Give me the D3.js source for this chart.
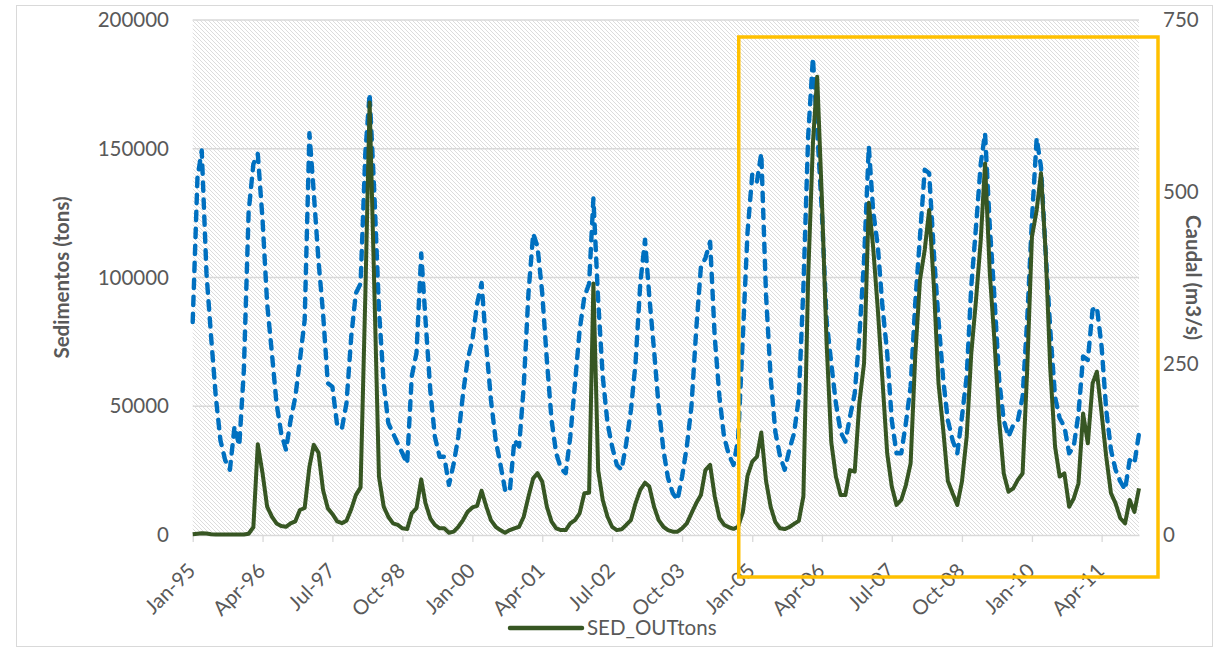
<!DOCTYPE html>
<html>
<head>
<meta charset="utf-8">
<script src="https://cdn.jsdelivr.net/npm/d3@7"></script>
<style>
  body { margin: 0; background: #fff; }
  text { font-family: Lato, "Open Sans", sans-serif; fill: #595959; }
</style>
</head>
<body>
<div id="chart"></div>
<script>

// monthly series, Jan-95 .. Dec-11 (one row per year)
var sed_out = [
  300, 500, 700, 600, 300, 200, 150, 150, 150, 150, 150, 200,
  500, 3000, 35200, 24000, 11000, 7100, 4500, 3500, 3200, 4500, 5300, 9700,
  10500, 26500, 35000, 32000, 17500, 10400, 8200, 5300, 4600, 5500, 10000, 15500,
  18500, 93000, 168000, 95000, 22600, 11000, 7100, 4500, 3900, 2600, 2300, 8400,
  10400, 21600, 12300, 6500, 3900, 2600, 2600, 900, 1300, 3200, 5800, 9000,
  10700, 11300, 17200, 11000, 5800, 3200, 1900, 900, 1900, 2600, 3200, 7100,
  14900, 22000, 24000, 20700, 11000, 5200, 2600, 1900, 1900, 4500, 5800, 8400,
  16200, 16400, 97700, 25200, 13600, 7100, 3200, 1900, 2200, 3900, 5800, 12300,
  17500, 20300, 18800, 11000, 5800, 3200, 1900, 1300, 1300, 2600, 4500, 8400,
  12300, 15500, 25200, 27200, 15000, 6500, 4000, 3000, 2400, 3200, 9000, 23000,
  28500, 30400, 39800, 21000, 11000, 5000, 2600, 2300, 3100, 4300, 5500, 15000,
  100000, 152000, 178000, 130000, 75000, 36000, 22700, 15500, 15500, 25200, 24600, 51100,
  66700, 129000, 112000, 87400, 60200, 31700, 18800, 11700, 13600, 19400, 27800, 69300,
  99000, 110700, 126200, 96400, 58900, 40800, 21000, 16200, 11700, 20700, 38200, 70500,
  91300, 114600, 144300, 101600, 75700, 44700, 23900, 16800, 18100, 21400, 23900, 64100,
  115800, 126200, 140500, 109400, 64100, 34300, 22700, 23900, 11000, 14200, 20100, 47200,
  35600, 58900, 63400, 47200, 30400, 16200, 12300, 6500, 4500, 13600, 9000, 18100
];

var caudal = [
  310, 520, 560, 381, 289, 201, 138, 109, 95, 158, 130, 240,
  470, 540, 555, 459, 337, 265, 192, 148, 124, 167, 201, 255,
  313, 585, 500, 400, 323, 221, 216, 160, 155, 192, 289, 352,
  366, 556, 643, 497, 328, 221, 163, 148, 133, 119, 104, 231,
  265, 410, 313, 211, 143, 114, 114, 73, 104, 143, 206, 255,
  284, 337, 367, 274, 197, 138, 104, 66, 63, 138, 129, 216,
  352, 439, 420, 352, 255, 167, 119, 97, 90, 143, 221, 298,
  347, 366, 490, 342, 231, 163, 129, 102, 95, 133, 182, 250,
  366, 430, 347, 269, 187, 124, 83, 61, 51, 85, 129, 187,
  298, 391, 403, 427, 289, 201, 143, 117, 102, 140, 290, 440,
  525, 515, 556, 350, 230, 150, 115, 95, 125, 148, 200, 360,
  580, 695, 590, 469, 313, 250, 192, 150, 136, 172, 206, 289,
  400, 566, 473, 420, 333, 265, 167, 119, 119, 163, 216, 337,
  434, 532, 527, 410, 313, 226, 167, 138, 119, 172, 231, 362,
  449, 541, 585, 449, 347, 226, 167, 143, 160, 167, 201, 313,
  459, 578, 536, 410, 298, 201, 170, 158, 119, 129, 177, 260,
  255, 328, 332, 274, 182, 124, 95, 78, 66, 109, 104, 148
];

var tick_labels = ["Jan-95", "Apr-96", "Jul-97", "Oct-98", "Jan-00", "Apr-01", "Jul-02",
                   "Oct-03", "Jan-05", "Apr-06", "Jul-07", "Oct-08", "Jan-10", "Apr-11"];
var left_ticks = [0, 50000, 100000, 150000, 200000];
var right_ticks = [0, 250, 500, 750];
var first_month = "Jan-95", last_month = "Dec-11";
var highlight = ["Jan-05", "Dec-11"];   // period boxed in yellow

var svg_w = 1223, svg_h = 652;
var plot = {left: 192.7, right: 1139, top: 20, bottom: 535};

var parseMonth = d3.timeParse("%b-%y");
var start = parseMonth(first_month);
var months = sed_out.map(function(d, i) { return d3.timeMonth.offset(start, i); });

var svg = d3.select("#chart")
      .append("svg")
      .attr("width", svg_w)
      .attr("height", svg_h);

// diagonal hatch for the plot area
svg.append("defs").append("pattern")
   .attr("id", "hatch")
   .attr("patternUnits", "userSpaceOnUse")
   .attr("width", 4)
   .attr("height", 4)
   .append("path")
   .attr("d", "M-1,-1 L5,5 M-1,3 L1,5 M3,-1 L5,1")
   .attr("stroke", "#dcdcdc")
   .attr("stroke-width", 1);

// chart border
svg.append("rect")
   .attr("x", 16.5).attr("y", 5.5)
   .attr("width", 1196).attr("height", 641)
   .attr("fill", "#fff")
   .attr("stroke", "#d9d9d9");

var xScale = d3.scaleTime()
      .domain([start, parseMonth(last_month)])
      .range([plot.left, plot.right]);

var yLeft = d3.scaleLinear()
      .domain([0, 200000])
      .range([plot.bottom, plot.top]);

var yRight = d3.scaleLinear()
      .domain([0, 750])
      .range([plot.bottom, plot.top]);

svg.append("rect")
   .attr("x", plot.left).attr("y", plot.top)
   .attr("width", plot.right - plot.left)
   .attr("height", plot.bottom - plot.top)
   .attr("fill", "url(#hatch)");

// horizontal gridlines
svg.append("g")
   .selectAll("line")
   .data(left_ticks.slice(1))
   .enter()
   .append("line")
   .attr("x1", plot.left).attr("x2", plot.right)
   .attr("y1", function(d) { return yLeft(d); })
   .attr("y2", function(d) { return yLeft(d); })
   .attr("stroke", "#d9d9d9")
   .attr("stroke-width", 1.3);

// x axis
var tickDates = tick_labels.map(parseMonth);
var xAxis = d3.axisBottom(xScale)
      .tickValues(tickDates)
      .tickSize(7)
      .tickSizeOuter(0)
      .tickFormat("");

var gx = svg.append("g")
   .attr("transform", "translate(0," + plot.bottom + ")")
   .call(xAxis);
gx.select(".domain").attr("stroke", "#d9d9d9").attr("stroke-width", 1.3);
gx.selectAll(".tick line").attr("stroke", "#d9d9d9").attr("stroke-width", 1.3);

svg.append("g")
   .selectAll("text")
   .data(tick_labels)
   .enter()
   .append("text")
   .attr("text-anchor", "end")
   .attr("transform", function(d) {
      return "translate(" + (xScale(parseMonth(d)) + 4) + ",572) rotate(-45)";
   })
   .style("font-size", "20.5px")
   .text(function(d) { return d; });

// left axis labels
svg.append("g")
   .selectAll("text")
   .data(left_ticks)
   .enter()
   .append("text")
   .attr("x", 169)
   .attr("y", function(d) { return yLeft(d); })
   .attr("dy", "0.35em")
   .attr("text-anchor", "end")
   .style("font-size", "20.5px")
   .text(function(d) { return d; });

// right axis labels
svg.append("g")
   .selectAll("text")
   .data(right_ticks)
   .enter()
   .append("text")
   .attr("x", 1163)
   .attr("y", function(d) { return yRight(d); })
   .attr("dy", "0.35em")
   .style("font-size", "20.5px")
   .text(function(d) { return d; });

svg.append("text")
   .attr("text-anchor", "middle")
   .attr("transform", "translate(62," + ((plot.top + plot.bottom) / 2) + ") rotate(-90)")
   .attr("dy", "0.35em")
   .style("font-size", "20.5px")
   .style("font-weight", "bold")
   .text("Sedimentos (tons)");

svg.append("text")
   .attr("text-anchor", "middle")
   .attr("transform", "translate(1193," + ((plot.top + plot.bottom) / 2) + ") rotate(90)")
   .attr("dy", "0.35em")
   .style("font-size", "20.5px")
   .style("font-weight", "bold")
   .text("Caudal (m3/s)");

// caudal (right axis), dashed
var caudalLine = d3.line()
      .x(function(d, i) { return xScale(months[i]); })
      .y(function(d) { return yRight(d); });

svg.append("path")
   .datum(caudal)
   .attr("d", caudalLine)
   .attr("fill", "none")
   .attr("stroke", "#0070c0")
   .attr("stroke-width", 4.4)
   .attr("stroke-linecap", "round")
   .attr("stroke-linejoin", "round")
   .attr("stroke-dasharray", "8.5,8.5");

// sediment (left axis)
var sedLine = d3.line()
      .x(function(d, i) { return xScale(months[i]); })
      .y(function(d) { return yLeft(d); });

svg.append("path")
   .datum(sed_out)
   .attr("d", sedLine)
   .attr("fill", "none")
   .attr("stroke", "#375623")
   .attr("stroke-width", 4)
   .attr("stroke-linejoin", "round");

// legend
svg.append("line")
   .attr("x1", 510).attr("x2", 582)
   .attr("y1", 628).attr("y2", 628)
   .attr("stroke", "#375623")
   .attr("stroke-width", 4.5)
   .attr("stroke-linecap", "round");

svg.append("text")
   .attr("x", 587).attr("y", 628)
   .attr("dy", "0.35em")
   .style("font-size", "20.5px")
   .text("SED_OUTtons");

// yellow box over the later period
var hx0 = xScale(parseMonth(highlight[0])) - 13.5;
var hx1 = xScale(parseMonth(highlight[1])) + 19;
svg.append("rect")
   .attr("x", hx0).attr("y", 37)
   .attr("width", hx1 - hx0)
   .attr("height", 540)
   .attr("fill", "none")
   .attr("stroke", "#ffc000")
   .attr("stroke-width", 3.5);

</script>
</body>
</html>
